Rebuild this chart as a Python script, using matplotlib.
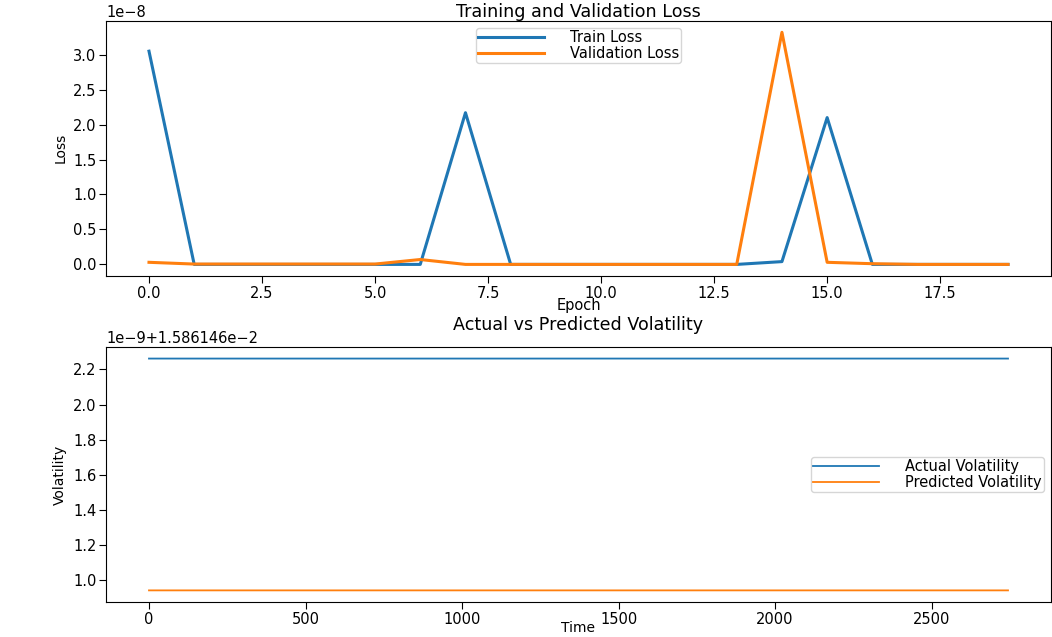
import numpy as np
import matplotlib
matplotlib.use('Agg')
import matplotlib.pyplot as plt

# loss history per epoch (values in units of 1e-8)
epochs = list(range(20))
train_loss = [3.05, 0.0, 0.0, 0.0, 0.0, 0.0, 0.0, 2.17, 0.0, 0.0,
              0.0, 0.0, 0.0, 0.0, 0.04, 2.10, 0.0, 0.0, 0.0, 0.0]
val_loss = [0.03, 0.005, 0.005, 0.005, 0.005, 0.005, 0.07, 0.0, 0.0, 0.0,
            0.0, 0.0, 0.0, 0.0, 3.32, 0.03, 0.01, 0.0, 0.0, 0.0]

# volatility series: flat over the whole test window
n_points = 2745
actual_vol = 1.586146e-2 + 2.262e-9
predicted_vol = 1.586146e-2 + 0.94e-9

plt.rcParams['font.size'] = 10.5

fig = plt.figure(figsize=(10.52, 6.37), dpi=100)

ax1 = fig.add_axes([0.1008, 0.5667, 0.8982, 0.4008])
ax1.plot(epochs, np.array(train_loss) * 1e-8, label='Train Loss', linewidth=2.2)
ax1.plot(epochs, np.array(val_loss) * 1e-8, label='Validation Loss', linewidth=2.2)
ax1.set_title('Training and Validation Loss', pad=3)
ax1.set_xlabel('Epoch', labelpad=-2)
ax1.set_ylabel('Loss', fontsize=10)
ax1.legend(loc='upper center', borderpad=0.15, labelspacing=0.05,
           handlelength=4.5, handletextpad=1.8, fontsize=10.5)
ax1.tick_params(labelsize=10.5, length=5, pad=2)

ax2 = fig.add_axes([0.1008, 0.0550, 0.8982, 0.4003])
t = np.arange(n_points)
ax2.plot(t, np.full(n_points, actual_vol), label='Actual Volatility', linewidth=1.3)
ax2.plot(t, np.full(n_points, predicted_vol), label='Predicted Volatility', linewidth=1.3)
ax2.set_title('Actual vs Predicted Volatility', pad=12)
ax2.set_xlabel('Time', labelpad=-4, fontsize=10)
ax2.set_ylabel('Volatility', fontsize=10)
ax2.legend(loc='center right', borderpad=0.15, labelspacing=0.05,
           handlelength=4.5, handletextpad=1.8, fontsize=10.5)
ax2.tick_params(labelsize=10.5, length=5, pad=2)

fig.savefig('out.png', dpi=100)
